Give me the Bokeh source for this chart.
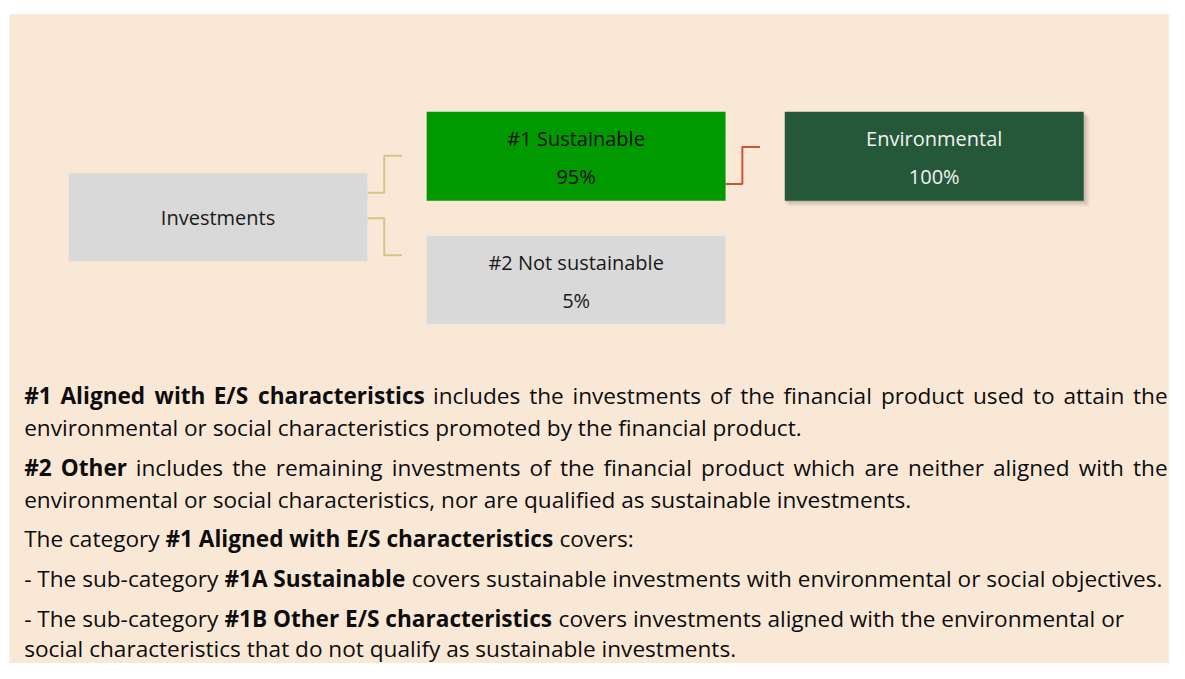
from bokeh.plotting import figure
from bokeh.models import Range1d
from bokeh.core.properties import value
from bokeh.embed import file_html
from bokeh.resources import INLINE

# ---------------- data ----------------
node_labels = ["Investments", "#1 Sustainable", "#2 Not sustainable", "Environmental"]
node_shares = ["", "95%", "5%", "100%"]
node_fill = ["#D9D9D9", "#009900", "#D9D9D9", "#255839"]
node_text_color = ["#1A1A1A", "#0D0D0D", "#1A1A1A", "#F2F2F2"]

para_lines = [
    [("#1 Aligned with E/S characteristics", True), ("includes the investments of the financial product used to attain the", False)],
    [("environmental or social characteristics promoted by the financial product.", False)],
    [("#2 Other", True), ("includes the remaining investments of the financial product which are neither aligned with the", False)],
    [("environmental or social characteristics, nor are qualified as sustainable investments.", False)],
    [("The category", False), ("#1 Aligned with E/S characteristics", True), ("covers:", False)],
    [("- The sub-category", False), ("#1A Sustainable", True), ("covers sustainable investments with environmental or social objectives.", False)],
    [("- The sub-category", False), ("#1B Other E/S characteristics", True), ("covers investments aligned with the environmental or", False)],
    [("social characteristics that do not qualify as sustainable investments.", False)],
]
para_justify = [True, False, True, False, False, False, False, False]

# ---------------- layout (reference pixels) ----------------
box_left = [69, 432, 432, 795]
box_right = [372, 735, 735, 1098]
box_top = [177, 114, 241, 114]
box_bottom = [267, 205, 331, 205]

line_y = [405, 437, 478, 511, 551, 592, 633, 664]
TEXT_L, TEXT_R = 24, 1183
FONT = "Open Sans"
FS = 22.6
BOX_FS = 20
REF_W, REF_H = 1185, 679
W, H = 1169, 663
SX = REF_W / W  # reference px per screen px

# approximate Open Sans advance widths (em)
_reg = dict(a=.556, b=.613, c=.480, d=.613, e=.561, f=.339, g=.548, h=.614, i=.253, j=.253, k=.525,
            l=.253, m=.930, n=.614, o=.604, p=.613, q=.613, r=.408, s=.477, t=.353, u=.614, v=.501,
            w=.778, x=.524, y=.502, z=.451)
_reg.update({" ": .26, ".": .266, ",": .244, "-": .322, "/": .367, ":": .266, "#": .646,
             "A": .633, "B": .648, "E": .541, "O": .781, "S": .539, "T": .544, "N": .770})
_bold = dict(a=.595, b=.630, c=.513, d=.630, e=.595, f=.385, g=.552, h=.654, i=.308, j=.308, k=.618,
             l=.308, m=.979, n=.654, o=.621, p=.630, q=.630, r=.455, s=.509, t=.414, u=.654, v=.569,
             w=.850, x=.587, y=.569, z=.480)
_bold.update({" ": .26, ".": .28, ",": .27, "-": .32, "/": .424, ":": .28, "#": .646,
              "A": .722, "B": .689, "E": .578, "O": .803, "S": .569, "T": .580, "N": .80})


def text_width(s, bold):
    tab = _bold if bold else _reg
    tot = 0.0
    for ch in s:
        if ch in tab:
            tot += tab[ch]
        elif ch.isdigit():
            tot += .572
        elif ch.isupper():
            tot += .65
        else:
            tot += .5
    return tot * FS * SX  # in reference units


p = figure(width=W, height=H, output_backend="svg", toolbar_location=None,
           x_range=Range1d(0, REF_W), y_range=Range1d(REF_H, 0),
           x_axis_location=None, y_axis_location=None, min_border=0)
p.grid.visible = False
p.outline_line_color = None
p.background_fill_color = "white"
p.border_fill_color = "white"

# peach panel
p.quad(left=[9], right=[REF_W], top=[14], bottom=[REF_H], fill_color="#FAE8D7", line_color=None)

# connectors
p.multi_line(xs=[[372, 389, 389, 407], [372, 389, 389, 407]],
             ys=[[197, 197, 159, 159], [223, 223, 261, 261]],
             line_color="#D4C687", line_width=2)
p.multi_line(xs=[[735, 752, 752, 770]], ys=[[188, 188, 150, 150]],
             line_color="#CD5334", line_width=2)

# soft shadow under Environmental box
for d, a in [(6, 0.05), (4, 0.07), (2, 0.09)]:
    p.quad(left=[box_left[3] + d - 2], right=[box_right[3] + d], top=[box_top[3] + d - 1],
           bottom=[box_bottom[3] + d], fill_color="black", fill_alpha=a, line_color=None)

p.quad(left=box_left, right=box_right, top=box_top, bottom=box_bottom,
       fill_color=node_fill, line_color=None)

# node texts
cx = [(l + r) / 2 for l, r in zip(box_left, box_right)]
for i in range(len(node_labels)):
    common = dict(text_font=value(FONT), text_font_size=f"{BOX_FS}px", text_color=node_text_color[i],
                  text_align="center", text_baseline="middle")
    if node_shares[i]:
        ly = box_top[i] + 27
        p.text(x=[cx[i]], y=[ly], text=[node_labels[i]], **common)
        p.text(x=[cx[i]], y=[ly + 39], text=[node_shares[i]], **common)
    else:
        p.text(x=[cx[i]], y=[(box_top[i] + box_bottom[i]) / 2], text=[node_labels[i]], **common)

# paragraph
xs_n, ys_n, ts_n = [], [], []
xs_b, ys_b, ts_b = [], [], []


def put(x, y, t, bold):
    if bold:
        xs_b.append(x); ys_b.append(y); ts_b.append(t)
    else:
        xs_n.append(x); ys_n.append(y); ts_n.append(t)


space = text_width(" ", False)
for li, segs in enumerate(para_lines):
    y = line_y[li]
    if para_justify[li]:
        words = [(wd, b) for txt, b in segs for wd in txt.split()]
        widths = [text_width(wd, b) for wd, b in words]
        gap = (TEXT_R - TEXT_L - sum(widths)) / (len(words) - 1)
        x = TEXT_L
        for (wd, b), wdt in zip(words, widths):
            put(x, y, wd, b)
            x += wdt + gap
    else:
        x = TEXT_L
        for txt, b in segs:
            put(x, y, txt, b)
            x += text_width(txt, b) + space

p.text(x=xs_n, y=ys_n, text=ts_n, text_font=value(FONT), text_font_size=f"{FS}px",
       text_color="#0D0D0D", text_align="left", text_baseline="middle")
p.text(x=xs_b, y=ys_b, text=ts_b, text_font=value(FONT), text_font_size=f"{FS}px",
       text_font_style="bold", text_color="#0D0D0D", text_align="left", text_baseline="middle")

open("out.html", "w").write(file_html(p, INLINE))
